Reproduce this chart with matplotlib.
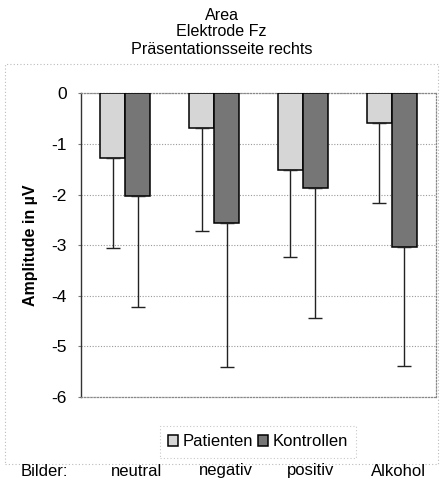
import matplotlib
matplotlib.use("Agg")
import matplotlib.pyplot as plt
from matplotlib.patches import Rectangle
import numpy as np

plt.rcParams['font.family'] = ['Liberation Sans', 'DejaVu Sans']

categories = ["neutral", "negativ", "positiv", "Alkohol"]
patienten = [-1.27, -0.68, -1.52, -0.59]
kontrollen = [-2.02, -2.56, -1.87, -3.04]
patienten_sd = [1.79, 2.05, 1.71, 1.58]
kontrollen_sd = [2.20, 2.84, 2.56, 2.35]
yticks = [0, -1, -2, -3, -4, -5, -6]

fig = plt.figure(figsize=(4.43, 4.87), dpi=100)
ax = fig.add_axes([0.1828, 0.1848, 0.8014, 0.6236])

x = np.arange(len(categories))
w = 0.2817
light = '#d6d6d6'
dark = '#767676'

ax.bar(x - w/2, patienten, w, color=light, edgecolor='black', linewidth=1.1, zorder=3,
       label='Patienten')
ax.bar(x + w/2, kontrollen, w, color=dark, edgecolor='black', linewidth=1.1, zorder=3,
       label='Kontrollen')

ax.errorbar(x - w/2, patienten, yerr=[patienten_sd, [0]*4], fmt='none', ecolor='#222222',
            elinewidth=1.0, capsize=5, capthick=1.0, zorder=4)
ax.errorbar(x + w/2, kontrollen, yerr=[kontrollen_sd, [0]*4], fmt='none', ecolor='#222222',
            elinewidth=1.0, capsize=5, capthick=1.0, zorder=4)

ax.set_xlim(-0.5, 3.5)
ax.set_ylim(-6, 0)
ax.set_yticks(yticks)
ax.set_yticklabels([str(t) for t in yticks], fontsize=12.5)
ax.set_xticks([])
ax.tick_params(axis='y', length=2, color='#777777', pad=8)
ax.yaxis.grid(True, linestyle=(0, (1, 1.5)), color='#999999', linewidth=0.8, zorder=0)
ax.set_axisbelow(True)

for side in ['top', 'right', 'bottom']:
    ax.spines[side].set_linestyle((0, (1, 1.5)))
    ax.spines[side].set_color('#888888')
    ax.spines[side].set_linewidth(0.9)
ax.spines['left'].set_color('#333333')
ax.spines['left'].set_linewidth(1.0)

ax.set_ylabel('Amplitude in µV', fontsize=11.5, fontweight='bold', labelpad=10)

# Title
fig.text(0.5, 1 - 15/487, 'Area', ha='center', va='center', fontsize=11.6)
fig.text(0.5, 1 - 32/487, 'Elektrode Fz', ha='center', va='center', fontsize=11.6)
fig.text(0.5, 1 - 50/487, 'Präsentationsseite rechts', ha='center', va='center', fontsize=11.6)

# Chart area border
fig.patches.append(Rectangle((5/443, 1 - 464/487), 433/443, (464 - 64)/487,
                             transform=fig.transFigure, fill=False,
                             edgecolor='#bbbbbb', linestyle=(0, (1, 2)), linewidth=0.8))

# Legend
leg = fig.legend(loc='center', bbox_to_anchor=(258/443, 1 - 442/487), ncol=2,
                 fontsize=12, frameon=True, fancybox=False, handlelength=0.6,
                 handleheight=0.6, handletextpad=0.25, columnspacing=0.3, borderpad=0.5,
                 borderaxespad=0)
leg.get_frame().set_edgecolor('#bbbbbb')
leg.get_frame().set_linestyle((0, (1, 2)))
leg.get_frame().set_linewidth(0.8)

# Category labels
fig.text(44/443, 1 - 471/487, 'Bilder:', ha='center', va='center', fontsize=12)
label_x = [137, 226, 311, 398]
for lx, c in zip(label_x, categories):
    fig.text(lx/443, 1 - 471/487, c, ha='center', va='center', fontsize=12)

fig.savefig('out.png', dpi=100)
